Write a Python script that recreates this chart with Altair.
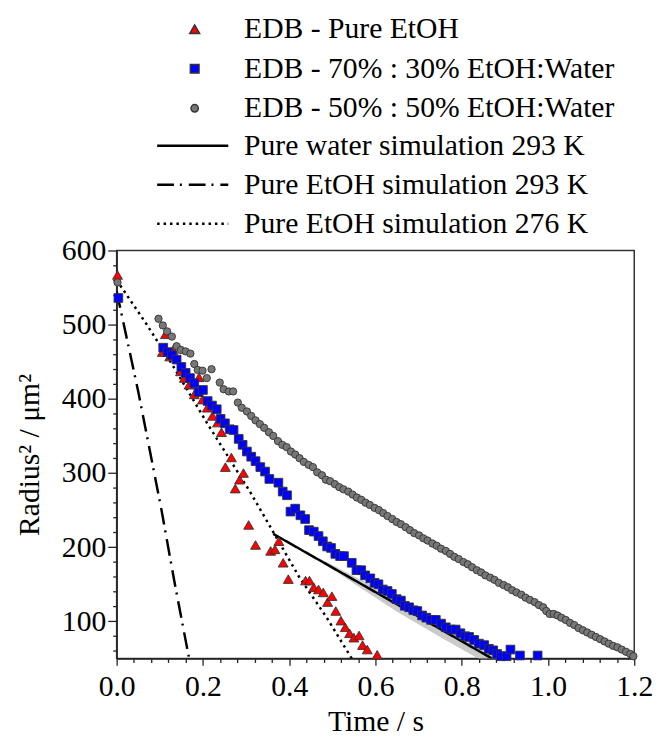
import altair as alt
import pandas as pd

FONT = "Liberation Serif, Times New Roman, DejaVu Serif, serif"

# ---------------- data ----------------
series_names = ["EDB - Pure EtOH", "EDB - 70% : 30% EtOH:Water", "EDB - 50% : 50% EtOH:Water"]
series_colors = ["#ff0000", "#0000ff", "#777777"]
series_shapes = ["triangle-up", "square", "circle"]
series_sizes = [100, 55, 90]

sim_names = ["Pure water simulation 293 K", "Pure EtOH simulation 293 K", "Pure EtOH simulation 276 K"]
sim_dashes = [[1, 0], [17, 6, 2, 7], [2.5, 4]]

# EDB - Pure EtOH (red triangles)
etoh_t = [0.002, 0.106, 0.113, 0.123, 0.131, 0.148, 0.157, 0.168, 0.180, 0.191, 0.199, 0.210,
          0.222, 0.234, 0.243, 0.252, 0.266, 0.275, 0.285, 0.294, 0.306, 0.322, 0.357, 0.367,
          0.376, 0.386, 0.398, 0.438, 0.447, 0.457, 0.468, 0.479, 0.489, 0.499, 0.508, 0.520,
          0.530, 0.540, 0.550, 0.562, 0.570, 0.581, 0.604]
etoh_r2 = [567, 463, 487, 457, 466, 437, 428, 419, 406, 429, 399, 388,
           377, 368, 355, 308, 321, 279, 291, 300, 230, 203, 195, 197,
           208, 179, 157, 155, 155, 146, 143, 139, 126, 134, 114, 101,
           92, 84, 78, 81, 68, 62, 55]

# EDB - 70% : 30% EtOH:Water (blue squares)
mix70_t = [0.004, 0.108, 0.118, 0.128, 0.139, 0.150, 0.160, 0.170, 0.180, 0.190, 0.200, 0.211,
           0.221, 0.232, 0.241, 0.251, 0.262, 0.271, 0.283, 0.292, 0.302, 0.312, 0.322, 0.333,
           0.344, 0.354, 0.375, 0.385, 0.395, 0.403, 0.414, 0.426, 0.437, 0.446, 0.457, 0.468,
           0.478, 0.488, 0.497, 0.507, 0.518, 0.527, 0.545, 0.556, 0.567, 0.576, 0.588, 0.598,
           0.607, 0.617, 0.628, 0.638, 0.649, 0.659, 0.668, 0.678, 0.688, 0.697, 0.708, 0.718,
           0.729, 0.740, 0.752, 0.763, 0.775, 0.786, 0.797, 0.808, 0.817, 0.829, 0.840, 0.852,
           0.863, 0.873, 0.882, 0.891, 0.904, 0.913, 0.935, 0.976]
mix70_r2 = [536, 469, 463, 459, 453, 443, 435, 428, 421, 409, 412, 397,
            391, 386, 373, 367, 359, 358, 346, 338, 329, 322, 316, 308,
            302, 292, 287, 275, 270, 248, 252, 243, 238, 223, 221, 215,
            208, 201, 199, 191, 188, 188, 179, 169, 169, 162, 158, 152,
            150, 143, 141, 137, 130, 128, 121, 119, 115, 114, 108, 105,
            102, 102, 97, 92, 89, 89, 84, 80, 79, 75, 70, 68,
            63, 61, 56, 53, 53, 62, 54, 54]

# EDB - 50% : 50% EtOH:Water (grey circles)
mix50_t = [0.002, 0.097, 0.107, 0.117, 0.128, 0.139, 0.149, 0.160, 0.171, 0.180, 0.188, 0.199,
           0.209, 0.220, 0.239, 0.248, 0.260, 0.270, 0.281, 0.290, 0.302, 0.312, 0.322, 0.332,
           0.342, 0.353, 0.363, 0.374, 0.384, 0.394, 0.404, 0.414, 0.424, 0.434, 0.445, 0.455,
           0.465, 0.476, 0.485, 0.495, 0.506, 0.516, 0.526, 0.537, 0.547, 0.557, 0.567, 0.577,
           0.587, 0.598, 0.608, 0.618, 0.628, 0.639, 0.649, 0.659, 0.670, 0.680, 0.690, 0.701,
           0.711, 0.721, 0.732, 0.742, 0.752, 0.763, 0.773, 0.783, 0.793, 0.804, 0.814, 0.824,
           0.835, 0.845, 0.855, 0.866, 0.876, 0.886, 0.897, 0.907, 0.917, 0.927, 0.938, 0.948,
           0.958, 0.969, 0.979, 0.989, 0.996, 1.004, 1.013, 1.022, 1.031, 1.041, 1.051, 1.061,
           1.071, 1.081, 1.091, 1.101, 1.111, 1.121, 1.131, 1.141, 1.151, 1.161, 1.171, 1.181,
           1.191, 1.198]
mix50_r2 = [557, 508, 499, 491, 484, 471, 466, 464, 461, 447, 439, 438,
            428, 440, 422, 413, 410, 410, 395, 388, 383, 377, 371, 366,
            361, 355, 350, 343, 338, 335, 329, 325, 320, 315, 311, 308,
            301, 297, 291, 289, 285, 281, 278, 275, 271, 267, 264, 260,
            257, 253, 250, 246, 242, 238, 234, 231, 227, 223, 219, 216,
            212, 209, 205, 202, 198, 195, 191, 187, 184, 180, 177, 173,
            169, 166, 162, 159, 156, 152, 149, 146, 142, 139, 136, 132,
            129, 126, 122, 119, 114, 110, 110, 108, 105, 102, 98, 95,
            91, 88, 85, 82, 79, 76, 73, 70, 67, 65, 62, 59,
            56, 53]

# simulations
water_t = [0.363, 0.870]
water_r2 = [218, 50]
band_t = [0.47, 0.55, 0.65, 0.75, 0.85, 0.90]
band_lo = [182, 151, 113, 79, 46, 30]
band_hi = [185, 161, 131, 99, 68, 53]

etoh293_t = [0.0, 0.050, 0.104, 0.135, 0.168]
etoh293_r2 = [545, 410, 250, 150, 50]

etoh276_t = [0.0, 0.069, 0.127, 0.210, 0.310, 0.424, 0.486, 0.545]
etoh276_r2 = [560, 501, 448, 367, 274, 159, 106, 50]

x_ticks = [round(i * 0.04, 2) for i in range(31)]
y_ticks = list(range(60, 601, 20))

# ---------------- tables ----------------
pts = pd.concat([
    pd.DataFrame({"t": etoh_t, "r2": etoh_r2, "series": series_names[0]}),
    pd.DataFrame({"t": mix70_t, "r2": mix70_r2, "series": series_names[1]}),
    pd.DataFrame({"t": mix50_t, "r2": mix50_r2, "series": series_names[2]}),
], ignore_index=True)

sims = pd.concat([
    pd.DataFrame({"t": water_t, "r2": water_r2, "sim": sim_names[0]}),
    pd.DataFrame({"t": etoh293_t, "r2": etoh293_r2, "sim": sim_names[1]}),
    pd.DataFrame({"t": etoh276_t, "r2": etoh276_r2, "sim": sim_names[2]}),
], ignore_index=True)

band = pd.DataFrame({"t": band_t, "lo": band_lo, "hi": band_hi})

# ---------------- axes ----------------
xscale = alt.Scale(domain=[0, 1.2], nice=False, zero=False)
yscale = alt.Scale(domain=[50, 600], nice=False, zero=False)

x_major = "abs(datum.value * 5 - round(datum.value * 5)) < 0.000001"
y_major = "datum.value % 100 == 0"

xaxis = alt.Axis(
    values=x_ticks, title="Time / s", grid=False, labelFlush=False, labelOverlap=False,
    labelExpr=f"{x_major} ? format(datum.value, '.1f') : ''",
    tickSize={"condition": {"test": x_major, "value": 7}, "value": 4},
    labelPadding=7, titlePadding=5,
)
yaxis = alt.Axis(
    values=y_ticks, title="Radius² / μm²", grid=False, labelOverlap=False,
    labelExpr=f"{y_major} ? datum.value : ''",
    tickSize={"condition": {"test": y_major, "value": 9}, "value": 4},
    labelPadding=2, titlePadding=17,
)

X = alt.X("t:Q", scale=xscale, axis=xaxis)
Y = alt.Y("r2:Q", scale=yscale, axis=yaxis)

band_layer = alt.Chart(band).mark_area(color="#c4c4c4", opacity=0.9, clip=True).encode(
    x=X, y=alt.Y("lo:Q", scale=yscale, axis=yaxis), y2="hi:Q"
)

line_layer = alt.Chart(sims).mark_line(color="black", strokeWidth=2.5, clip=True).encode(
    x=X, y=Y,
    strokeDash=alt.StrokeDash(
        "sim:N",
        scale=alt.Scale(domain=sim_names, range=sim_dashes),
        legend=alt.Legend(
            title=None, orient="none", legendX=62, legendY=-121,
            symbolType="M-12,0H12", symbolSize=36, symbolStrokeWidth=2.5,
            symbolStrokeColor="black", labelOffset=37, rowPadding=9.5, padding=0,
        ),
    ),
)

pt_legend = alt.Legend(
    title=None, orient="none", legendX=64, legendY=-239,
    symbolSize=40, labelOffset=35, rowPadding=10, padding=0,
)
point_layer = alt.Chart(pts).mark_point(
    filled=True, stroke="#333333", strokeWidth=0.9, opacity=1
).encode(
    x=X, y=Y,
    color=alt.Color("series:N", scale=alt.Scale(domain=series_names, range=series_colors), legend=pt_legend),
    shape=alt.Shape("series:N", scale=alt.Scale(domain=series_names, range=series_shapes), legend=pt_legend),
    size=alt.Size("series:N", scale=alt.Scale(domain=series_names, range=series_sizes), legend=None),
)

chart = alt.layer(band_layer, line_layer, point_layer).properties(
    width=524, height=413,
    autosize=alt.AutoSizeParams(type="none"),
    padding={"left": 110, "top": 241, "right": 20, "bottom": 76},
).configure_view(
    stroke="#333333", strokeWidth=1.5
).configure_axis(
    labelFont=FONT, labelFontSize=30, labelColor="black",
    titleFont=FONT, titleFontSize=30, titleFontWeight="normal", titleColor="black",
    domainColor="#222222", domainWidth=1.5, tickColor="#222222", tickWidth=1.3,
).configure_legend(
    labelFont=FONT, labelFontSize=30, labelColor="black", labelLimit=0,
)

chart.save("out.html", embed_options={"renderer": "svg", "actions": False})
